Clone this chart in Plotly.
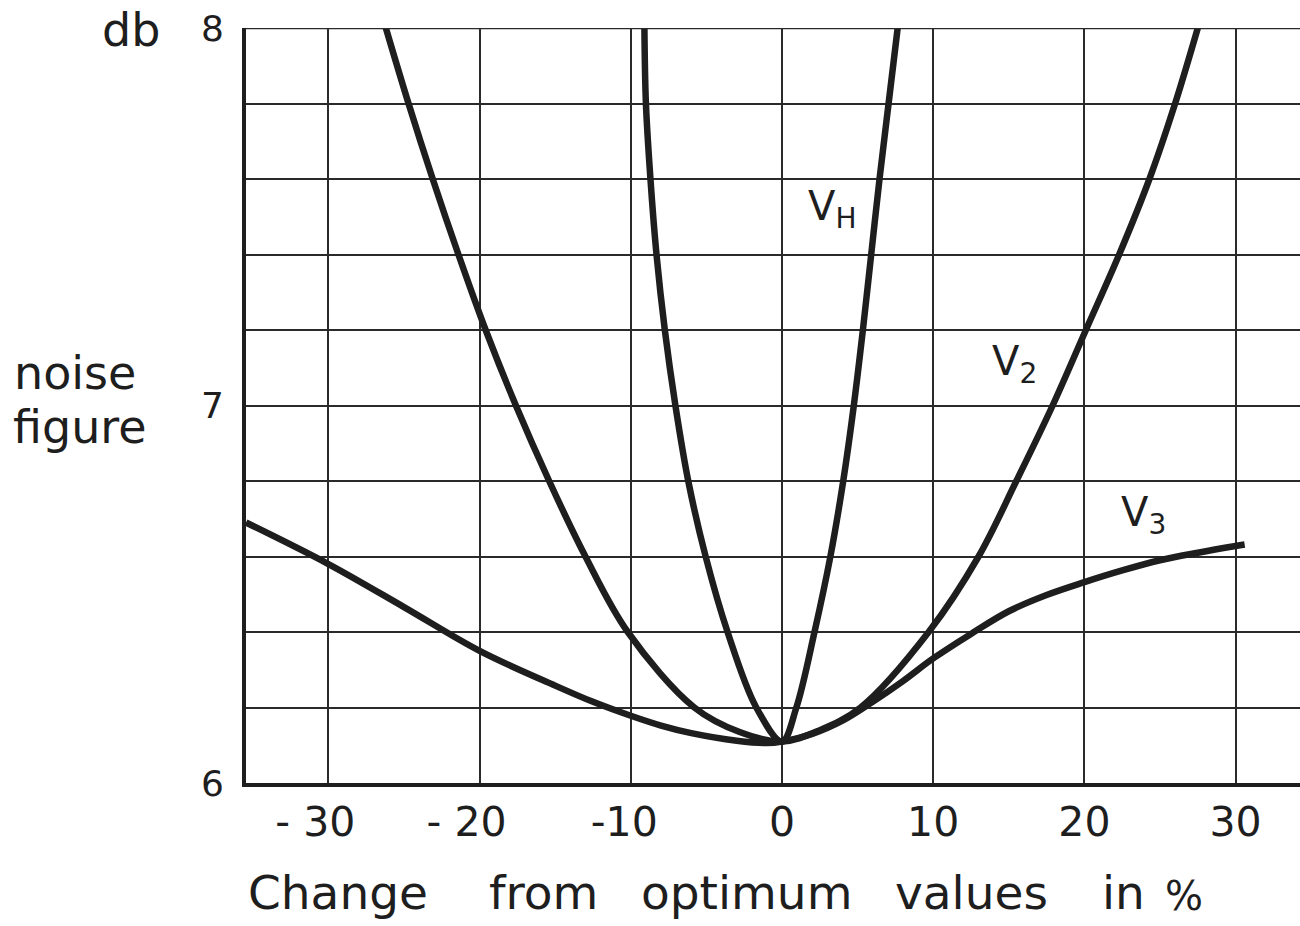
import plotly.graph_objects as go

# Noise figure (dB) versus change from optimum operating values (%)
vh_x = [-9.1, -9.0, -8.7, -8.3, -7.75, -7.05, -6.2, -5.05, -3.6, -1.7, 0.0,
        0.95, 2.15, 3.2, 4.05, 4.75, 5.35, 5.9, 6.45, 7.05, 7.65]
vh_y = [8.0, 7.8, 7.6, 7.4, 7.2, 7.0, 6.8, 6.6, 6.4, 6.2, 6.11,
        6.2, 6.4, 6.6, 6.8, 7.0, 7.2, 7.4, 7.6, 7.8, 8.0]

v2_x = [-26.2, -24.7, -23.1, -21.4, -19.6, -17.6, -15.4, -13.0, -10.2, -5.8, -2.8, 0.0,
        2.5, 5.2, 9.7, 13.0, 15.5, 17.9, 20.1, 22.3, 24.3, 26.0, 27.5]
v2_y = [8.0, 7.8, 7.6, 7.4, 7.2, 7.0, 6.8, 6.6, 6.4, 6.2, 6.135, 6.11,
        6.14, 6.2, 6.4, 6.6, 6.8, 7.0, 7.2, 7.4, 7.6, 7.8, 8.0]

v3_x = [-35.45, -30, -25, -20, -15, -12.5, -10, -8, -6, -3, -1, 0, 2, 4, 6, 8, 10,
        12.5, 15, 17.5, 20, 22.5, 25, 27.5, 30, 30.6]
v3_y = [6.69, 6.58, 6.466, 6.35, 6.258, 6.215, 6.178, 6.152, 6.132, 6.112, 6.106, 6.11,
        6.13, 6.165, 6.215, 6.27, 6.33, 6.395, 6.455, 6.498, 6.532, 6.563,
        6.59, 6.61, 6.628, 6.632]

x_ticks = [-30, -20, -10, 0, 10, 20, 30]
# trailing no-break spaces keep the digits centred on the grid line
x_tick_text = ["- 30\u00a0\u00a0", "- 20\u00a0\u00a0", "-10\u00a0", "0", "10", "20", "30"]
y_ticks = [6, 7, 8]
y_tick_text = ["6", "7", "8"]

curve_labels = [
    ("V<sub>H</sub>", 3.3, 7.52),
    ("V<sub>2</sub>", 15.4, 7.11),
    ("V<sub>3</sub>", 23.9, 6.71),
]

# Words of the x-axis caption with their left edges (paper fraction)
caption_words = [("Change", 0.0), ("from", 0.229), ("optimum", 0.373),
                 ("values", 0.614), ("in", 0.810), ("%", 0.870)]

INK = "#1e1e1e"
GRID = "#2a2a2a"
FONT = "DejaVu Sans"

fig = go.Figure()
for xs, ys in [(vh_x, vh_y), (v2_x, v2_y), (v3_x, v3_y)]:
    fig.add_trace(go.Scatter(
        x=xs, y=ys, mode="lines",
        line=dict(color=INK, width=6.5, shape="spline", smoothing=1.0),
        showlegend=False, hoverinfo="skip",
    ))

for text, x, y in curve_labels:
    fig.add_annotation(x=x, y=y, text=text, showarrow=False,
                       font=dict(family=FONT, size=40, color=INK))

# Axis captions
fig.add_annotation(xref="paper", yref="paper", x=-0.109, y=1.0, yshift=-2,
                   text="db", showarrow=False, xanchor="center", yanchor="middle",
                   font=dict(family=FONT, size=46, color=INK))
fig.add_annotation(xref="paper", yref="paper", x=-0.222, y=0.5, yshift=33,
                   text="noise", showarrow=False, xanchor="left", yanchor="middle",
                   font=dict(family=FONT, size=46, color=INK))
fig.add_annotation(xref="paper", yref="paper", x=-0.223, y=0.5, yshift=-21,
                   text="figure", showarrow=False, xanchor="left", yanchor="middle",
                   font=dict(family=FONT, size=46, color=INK))
for word, xpos in caption_words:
    is_pct = word == "%"
    fig.add_annotation(xref="paper", yref="paper", x=xpos, y=0,
                       yshift=-88 if is_pct else -80,
                       text=word, showarrow=False, xanchor="left", yanchor="top",
                       font=dict(family=FONT, size=40 if is_pct else 47, color=INK))

# Top frame line of the grid
fig.add_shape(type="line", xref="paper", yref="y", x0=0, x1=1, y0=8, y1=8,
              line=dict(color=GRID, width=2.5))

fig.update_layout(
    width=1300, height=926,
    margin=dict(l=246, r=0, t=28, b=143),
    paper_bgcolor="white", plot_bgcolor="white",
    xaxis=dict(
        range=[-35.45, 34.26], tickmode="array", tickvals=x_ticks, ticktext=x_tick_text,
        showgrid=True, gridcolor=GRID, gridwidth=2, zeroline=False,
        showline=True, linecolor=INK, linewidth=4, ticks="",
        ticklabelstandoff=0,
        tickfont=dict(family=FONT, size=41, color=INK),
    ),
    yaxis=dict(
        range=[6.0, 8.0], tickmode="array", tickvals=y_ticks, ticktext=y_tick_text,
        showgrid=True, gridcolor=GRID, gridwidth=2, zeroline=False,
        showline=True, linecolor=INK, linewidth=4, ticks="",
        ticklabelstandoff=11,
        tickfont=dict(family=FONT, size=36, color=INK),
        minor=dict(tick0=6, dtick=0.2, showgrid=True, gridcolor=GRID, gridwidth=2),
    ),
)

fig.write_html("out.html")
